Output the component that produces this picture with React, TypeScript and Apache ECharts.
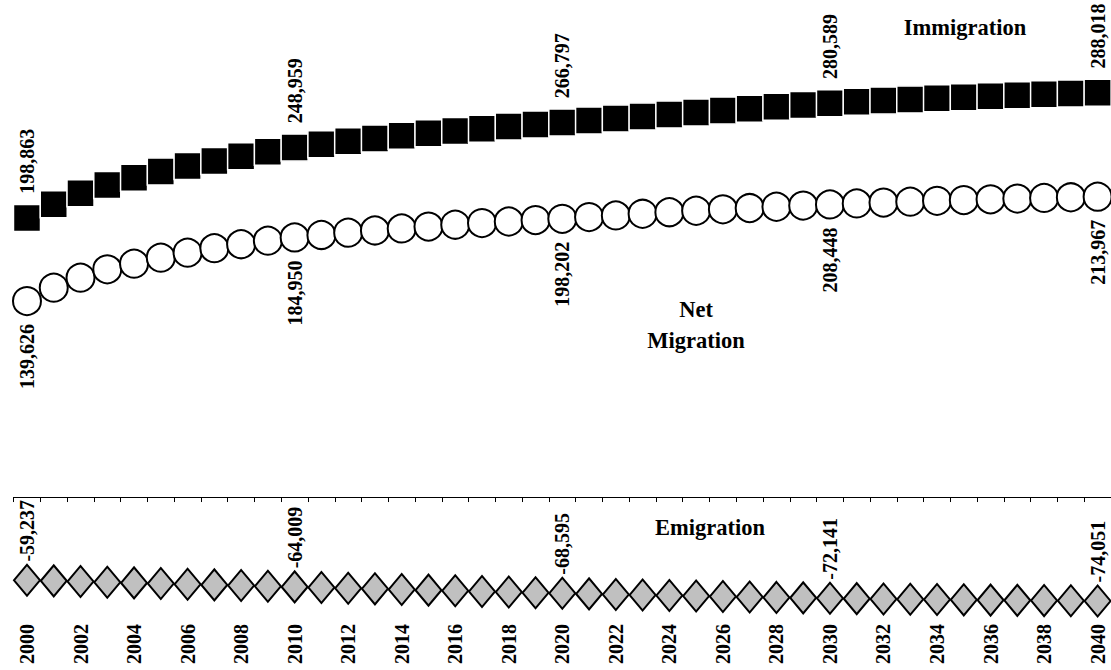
import React, { useEffect, useRef } from "react";
import * as echarts from "echarts";

const years = [
  "2000", "2001", "2002", "2003", "2004", "2005", "2006", "2007", "2008", "2009",
  "2010", "2011", "2012", "2013", "2014", "2015", "2016", "2017", "2018", "2019",
  "2020", "2021", "2022", "2023", "2024", "2025", "2026", "2027", "2028", "2029",
  "2030", "2031", "2032", "2033", "2034", "2035", "2036", "2037", "2038", "2039",
  "2040",
];

const immigration = [
  198863, 208667, 216339, 222306, 227492, 231968, 235804, 239350, 242700, 245900,
  248959, 251259, 253409, 255459, 257359, 259159, 260859, 262459, 263959, 265409,
  266797, 268280, 269730, 271160, 272570, 273960, 275330, 276680, 278010, 279310,
  280589, 281539, 282439, 283289, 284089, 284839, 285559, 286239, 286879, 287479,
  288018,
];

const netMigration = [
  139626, 149172, 156296, 162209, 166270, 170544, 174106, 177300, 180100, 182650,
  184950, 186700, 188350, 189900, 191350, 192700, 194000, 195200, 196300, 197300,
  198202, 199452, 200652, 201802, 202902, 203952, 204952, 205902, 206802, 207652,
  208448, 209148, 209798, 210418, 211008, 211568, 212108, 212618, 213098, 213558,
  213967,
];

const emigration = [
  -59237, -59720, -60200, -60680, -61160, -61640, -62120, -62590, -63060, -63540,
  -64009, -64480, -64950, -65410, -65870, -66330, -66790, -67240, -67690, -68140,
  -68595, -68990, -69380, -69760, -70130, -70490, -70840, -71180, -71510, -71830,
  -72141, -72380, -72610, -72830, -73040, -73240, -73430, -73610, -73770, -73910,
  -74051,
];

const labeledYears = ["2000", "2010", "2020", "2030", "2040"];

const FONT = "Liberation Serif";

function withLabels(values: number[]) {
  return values.map((v, i) =>
    labeledYears.includes(years[i]) ? { value: v, label: { show: true } } : v
  );
}

const fmt = (p: any) => Number(p.value).toLocaleString("en-US");

export default function App() {
  const ref = useRef<HTMLDivElement>(null);
  useEffect(() => {
    if (!ref.current) return;
    const chart = echarts.init(ref.current, null, { renderer: "svg" });
    const valueLabel = {
      show: false,
      rotate: 90,
      verticalAlign: "middle",
      fontFamily: FONT,
      fontWeight: "bold",
      fontSize: 20,
      color: "#000",
      formatter: fmt,
    };
    chart.setOption({
      animation: false,
      backgroundColor: "#fff",
      grid: { left: 13.6, top: 40, width: 1098.8, height: 580 },
      xAxis: [
        {
          type: "category",
          data: years,
          boundaryGap: true,
          position: "bottom",
          axisLine: { show: true, onZero: true, lineStyle: { color: "#000", width: 1 } },
          axisTick: { show: true, interval: 0, length: 5, inside: false, lineStyle: { color: "#000" } },
          axisLabel: { show: false },
          splitLine: { show: false },
        },
        {
          type: "category",
          data: years,
          boundaryGap: true,
          position: "bottom",
          axisLine: { show: false, onZero: false },
          axisTick: { show: false },
          axisLabel: {
            show: true,
            interval: 1,
            rotate: 90,
            margin: 4,
            fontFamily: FONT,
            fontWeight: "bold",
            fontSize: 20,
            color: "#000",
          },
          splitLine: { show: false },
        },
      ],
      yAxis: {
        type: "value",
        min: -87600,
        max: 325600,
        show: false,
        splitLine: { show: false },
      },
      graphic: [
        {
          type: "text",
          x: 965,
          y: 27,
          style: {
            text: "Immigration",
            textAlign: "center",
            textVerticalAlign: "middle",
            font: `bold 22.5px ${FONT}`,
            fill: "#000",
          },
        },
        {
          type: "text",
          x: 696,
          y: 325,
          style: {
            text: "Net\nMigration",
            textAlign: "center",
            textVerticalAlign: "middle",
            font: `bold 22.5px ${FONT}`,
            lineHeight: 31,
            fill: "#000",
          },
        },
        {
          type: "text",
          x: 710,
          y: 527,
          style: {
            text: "Emigration",
            textAlign: "center",
            textVerticalAlign: "middle",
            font: `bold 22.5px ${FONT}`,
            fill: "#000",
          },
        },
      ],
      series: [
        {
          name: "Immigration",
          type: "scatter",
          xAxisIndex: 0,
          yAxisIndex: 0,
          symbol: "rect",
          symbolSize: 27,
          itemStyle: { color: "#000", borderColor: "#fff", borderWidth: 1.5, opacity: 1 },
          label: { ...valueLabel, position: "top", align: "left", distance: 10 },
          data: withLabels(immigration),
        },
        {
          name: "Net Migration",
          type: "scatter",
          xAxisIndex: 0,
          yAxisIndex: 0,
          symbol: "circle",
          symbolSize: 28,
          itemStyle: { color: "#fff", borderColor: "#000", borderWidth: 2, opacity: 1 },
          label: { ...valueLabel, position: "bottom", align: "right", distance: 8 },
          data: withLabels(netMigration),
        },
        {
          name: "Emigration",
          type: "scatter",
          xAxisIndex: 0,
          yAxisIndex: 0,
          symbol: "diamond",
          symbolSize: [26, 31],
          itemStyle: { color: "#c0c0c0", borderColor: "#000", borderWidth: 2, opacity: 1 },
          label: { ...valueLabel, position: "top", align: "left", distance: 2 },
          data: withLabels(emigration),
        },
      ],
    });
    return () => chart.dispose();
  }, []);
  return (
    <div
      ref={ref}
      style={{ position: "fixed", left: 0, top: 0, width: 1111, height: 670, background: "#fff" }}
    />
  );
}
